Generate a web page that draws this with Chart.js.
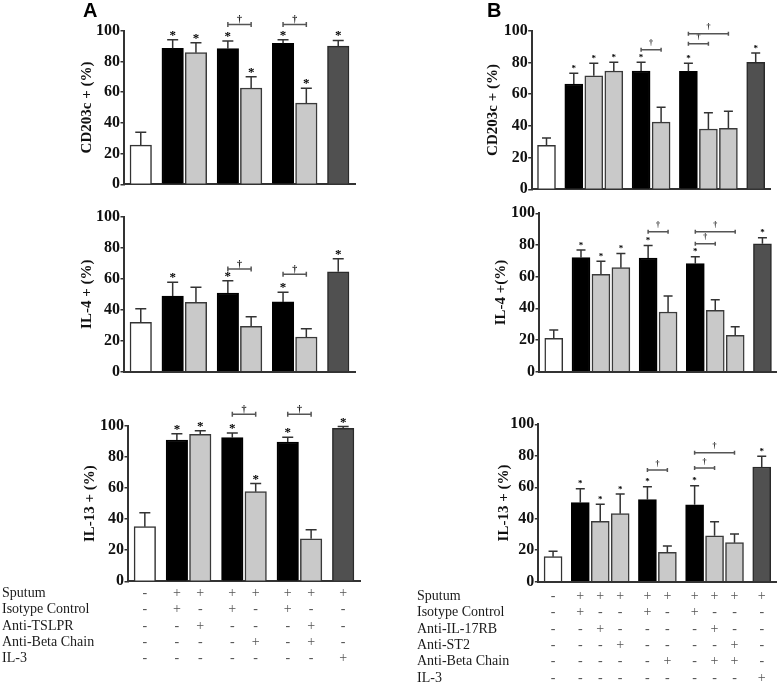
<!DOCTYPE html>
<html><head><meta charset="utf-8">
<script src="https://cdn.jsdelivr.net/npm/chart.js@4.4.1/dist/chart.umd.min.js"></script>
<style>
html,body{margin:0;padding:0;background:#fff;}
#wrap{position:relative;width:778px;height:683px;overflow:hidden;background:#fff;}
canvas{position:absolute;}
</style></head><body><div id="wrap"></div>
<script>
// ---------------- DATA ----------------
// Panel A condition table (one entry per bar)
const rowLabelsA = ['Sputum','Isotype Control','Anti-TSLPR','Anti-Beta Chain','IL-3'];
const sputumA    = ['-','+','+','+','+','+','+','+'];
const isotypeA   = ['-','+','-','+','-','+','-','-'];
const antiTSLPR_A= ['-','-','+','-','-','-','+','-'];
const antiBetaA  = ['-','-','-','-','+','-','+','-'];
const il3A       = ['-','-','-','-','-','-','-','+'];
const groupsA = [1,2,2,2,1];

// Panel B condition table
const rowLabelsB = ['Sputum','Isotype Control','Anti-IL-17RB','Anti-ST2','Anti-Beta Chain','IL-3'];
const sputumB    = ['-','+','+','+','+','+','+','+','+','+'];
const isotypeB   = ['-','+','-','-','+','-','+','-','-','-'];
const antiIL17RB = ['-','-','+','-','-','-','-','+','-','-'];
const antiST2    = ['-','-','-','+','-','-','-','-','+','-'];
const antiBetaB  = ['-','-','-','-','-','+','-','+','+','-'];
const il3B       = ['-','-','-','-','-','-','-','-','-','+'];
const groupsB = [1,3,2,3,1];

// Panel A values (mean, SEM)
const cd203cA     = [25.5, 88.5, 85.7, 88.3, 62.7, 91.8, 52.9, 90.0];
const cd203cA_err = [8.4, 5.6, 6.5, 5.0, 7.3, 2.3, 9.6, 3.7];
const il4A        = [31.9, 48.8, 44.8, 50.8, 29.3, 45.0, 22.4, 64.5];
const il4A_err    = [8.7, 8.9, 9.7, 7.9, 6.2, 6.2, 5.3, 8.4];
const il13A       = [35.2, 91.0, 94.7, 92.5, 57.7, 89.7, 27.4, 98.5];
const il13A_err   = [9.0, 4.0, 2.3, 3.0, 5.2, 3.0, 5.8, 1.1];
const starsCd203cA = [0,1,1,1,1,1,1,1];
const starsIl4A    = [0,1,0,1,0,1,0,1];
const starsIl13A   = [0,1,1,1,1,1,0,1];
// brackets: [fromBar, toBar, level]
const bracketsCd203cA = [[3,4,104],[5,6,104]];
const bracketsIl4A    = [[3,4,66.3],[5,6,62.8]];
const bracketsIl13A   = [[3,4,107.5],[5,6,107.5]];

// Panel B values
const cd203cB     = [27.7, 66.4, 71.6, 74.6, 74.6, 42.4, 74.4, 38.0, 38.5, 80.1];
const cd203cB_err = [4.6, 6.7, 7.8, 5.5, 5.5, 9.3, 5.0, 10.3, 10.7, 5.8];
const il4B        = [21.0, 72.0, 61.5, 65.7, 71.8, 37.7, 68.2, 38.8, 23.0, 80.8];
const il4B_err    = [5.3, 4.8, 8.2, 9.0, 7.8, 10.1, 4.4, 6.7, 5.4, 3.8];
const il13B       = [15.9, 50.2, 38.4, 43.2, 52.1, 18.7, 48.9, 29.2, 24.8, 72.9];
const il13B_err   = [3.4, 8.9, 10.8, 12.5, 8.3, 4.0, 12.1, 8.9, 5.5, 6.8];
const starsB      = [0,1,1,1,1,0,1,0,0,1];
const bracketsCd203cB = [[4,5,88],[6,7,91.8],[6,8,98.1]];
const bracketsIl4B    = [[4,5,88.4],[6,7,80.8],[6,8,88.4]];
const bracketsIl13B   = [[4,5,71],[6,7,72.2],[6,8,82]];

const yTicks = [0,20,40,60,80,100];

// ---------------- HELPERS ----------------
function slotPositions(groups, gap){
  const xs=[]; let x=0;
  groups.forEach((n,gi)=>{ if(gi>0) x+=gap-1; for(let k=0;k<n;k++){ xs.push(x); x+=1; } });
  return xs;
}
function barColors(sputum, isotype, il3){
  return sputum.map((s,i)=>{
    if (s==='-') return ['#ffffff','#333333'];
    if (il3[i]==='+') return ['#505050','#2a2a2a'];
    if (isotype[i]==='+') return ['#000000','#000000'];
    return ['#c9c9c9','#3a3a3a'];
  });
}
const xsA = slotPositions(groupsA, 1.37);
const xsB = slotPositions(groupsB, 1.365);
const colA = barColors(sputumA, isotypeA, il3A);
const colB = barColors(sputumB, isotypeB, il3B);
const tableA = [sputumA, isotypeA, antiTSLPR_A, antiBetaA, il3A];
const tableB = [sputumB, isotypeB, antiIL17RB, antiST2, antiBetaB, il3B];

const SERIF = "'Liberation Serif','Times New Roman',serif";
Chart.defaults.font.family = SERIF;
Chart.defaults.color = '#111';

const annotPlugin = {
  id: 'annot',
  afterDatasetsDraw(chart, args, o) {
    const ctx = chart.ctx;
    const meta = chart.getDatasetMeta(0);
    const ys = chart.scales.y;
    const data = chart.data.datasets[0].data;
    ctx.save();
    ctx.textAlign = 'center';
    ctx.textBaseline = 'alphabetic';
    meta.data.forEach((bar, i) => {
      const v = data[i].y, e = o.errors[i];
      const yTop = ys.getPixelForValue(v), yE = ys.getPixelForValue(v + e);
      ctx.strokeStyle = '#333'; ctx.lineWidth = 1.5;
      ctx.beginPath();
      ctx.moveTo(bar.x, yTop); ctx.lineTo(bar.x, yE);
      ctx.moveTo(bar.x - o.cap, yE); ctx.lineTo(bar.x + o.cap, yE);
      ctx.stroke();
      if (o.stars[i]) {
        ctx.fillStyle = '#000'; ctx.font = o.starFont;
        ctx.fillText('*', bar.x, yE + o.starDy);
      }
    });
    o.brackets.forEach(([i, j, lvl]) => {
      const x1 = meta.data[i].x, x2 = meta.data[j].x, y = ys.getPixelForValue(lvl);
      ctx.strokeStyle = '#555'; ctx.lineWidth = 1.5;
      ctx.beginPath();
      ctx.moveTo(x1, y); ctx.lineTo(x2, y);
      ctx.moveTo(x1, y - o.tick); ctx.lineTo(x1, y + o.tick);
      ctx.moveTo(x2, y - o.tick); ctx.lineTo(x2, y + o.tick);
      ctx.stroke();
      ctx.fillStyle = '#222'; ctx.font = o.daggerFont;
      ctx.fillText('\u2020', (x1 + x2) / 2, y + o.daggerDy);
    });
    if (o.letter) {
      ctx.fillStyle = '#000'; ctx.font = "bold 20px 'Liberation Sans', Arial, sans-serif";
      ctx.textAlign = 'left';
      ctx.fillText(o.letter, o.letterX, 16.5);
    }
    if (o.rows) {
      const xs = chart.scales.x;
      const tp = xs.options.ticks.padding;
      ctx.fillStyle = '#1a1a1a'; ctx.font = '14px ' + SERIF;
      ctx.textAlign = 'left'; ctx.textBaseline = 'middle';
      o.rows.forEach((t, r) => ctx.fillText(t, o.rowX, xs.top + tp + o.lh * (r + 0.5)));
    }
    ctx.restore();
  }
};

const LH = 16.45;
const A_RANGE = [-0.72, 9.2];
const B_RANGE = [-0.74, 11.175];

const panels = [
  {left:0, top:0, w:389, h:200, pad:{top:30.7,right:34,bottom:15.7,left:0}, yW:124, xH:0,
   title:'CD203c + (%)', titleX:87, vals:cd203cA, errs:cd203cA_err, stars:starsCd203cA, br:bracketsCd203cA,
   xs:xsA, cols:colA, range:A_RANGE, side:'A', letter:'A', letterX:83},
  {left:0, top:200, w:389, h:190, pad:{top:16.7,right:34,bottom:18.3,left:0}, yW:124, xH:0,
   title:'IL-4 + (%)', titleX:87, vals:il4A, errs:il4A_err, stars:starsIl4A, br:bracketsIl4A,
   xs:xsA, cols:colA, range:A_RANGE, side:'A'},
  {left:0, top:390, w:389, h:293, pad:{top:36,right:29,bottom:13.7,left:0}, yW:128, xH:88,
   title:'IL-13 + (%)', titleX:90, vals:il13A, errs:il13A_err, stars:starsIl13A, br:bracketsIl13A,
   xs:xsA, cols:colA, range:A_RANGE, side:'A', table:tableA, rows:rowLabelsA, rowX:2, tickPad:3.5},
  {left:389, top:0, w:389, h:200, pad:{top:30.7,right:8,bottom:10.7,left:0}, yW:142.7, xH:0,
   title:'CD203c + (%)', titleX:104.3, vals:cd203cB, errs:cd203cB_err, stars:starsB, br:bracketsCd203cB,
   xs:xsB, cols:colB, range:B_RANGE, side:'B', letter:'B', letterX:98},
  {left:389, top:200, w:389, h:190, pad:{top:13.3,right:1.3,bottom:18.3,left:0}, yW:150, xH:0,
   title:'IL-4 +(%)', titleX:112, vals:il4B, errs:il4B_err, stars:starsB, br:bracketsIl4B,
   xs:xsB, cols:colB, range:B_RANGE, side:'B'},
  {left:389, top:390, w:389, h:293, pad:{top:34.3,right:2,bottom:0,left:0}, yW:149.3, xH:101.3,
   title:'IL-13 + (%)', titleX:115, vals:il13B, errs:il13B_err, stars:starsB, br:bracketsIl13B,
   xs:xsB, cols:colB, range:B_RANGE, side:'B', table:tableB, rows:rowLabelsB, rowX:28, tickPad:6.1}
];

const wrap = document.getElementById('wrap');
panels.forEach(p => {
  const c = document.createElement('canvas');
  c.width = p.w; c.height = p.h;
  c.style.left = p.left + 'px'; c.style.top = p.top + 'px';
  c.style.width = p.w + 'px'; c.style.height = p.h + 'px';
  wrap.appendChild(c);
  const isA = p.side === 'A';
  new Chart(c.getContext('2d'), {
    type: 'bar',
    data: { datasets: [{
      data: p.vals.map((v, i) => ({x: p.xs[i], y: v})),
      backgroundColor: p.cols.map(c => c[0]),
      borderColor: p.cols.map(c => c[1]),
      borderWidth: 1.5,
      borderSkipped: 'start',
      barThickness: isA ? 21.5 : 18
    }]},
    options: {
      responsive: false, animation: false, devicePixelRatio: 1,
      layout: { padding: p.pad },
      plugins: {
        legend: {display: false}, tooltip: {enabled: false},
        annot: {
          errors: p.errs, stars: p.stars, brackets: p.br,
          cap: isA ? 5.5 : 4.5,
          starFont: isA ? 'bold 13px ' + SERIF : 'bold 9px ' + SERIF,
          starDy: isA ? -1 : -2.5,
          daggerFont: isA ? 'bold 10px ' + SERIF : 'bold 8px ' + SERIF,
          daggerDy: isA ? -2.1 : -4.3,
          tick: isA ? 2.5 : 2,
          letter: p.letter, letterX: p.letterX,
          rows: p.rows, rowX: p.rowX, lh: LH
        }
      },
      scales: {
        x: {
          type: 'linear', min: p.range[0], max: p.range[1], offset: false, bounds: 'data',
          grid: {display: false, drawTicks: false, offset: false},
          border: {display: true, color: '#333', width: 2},
          afterBuildTicks: s => { s.ticks = p.xs.map(v => ({value: v})); },
          afterFit: s => { s.height = p.xH; },
          ticks: {
            display: !!p.table, autoSkip: false, maxRotation: 0, minRotation: 0,
            padding: p.tickPad || 0, color: '#555',
            font: {family: SERIF, size: 14, lineHeight: LH / 14},
            callback: (v, i) => p.table ? p.table.map(row => row[i]) : ''
          }
        },
        y: {
          min: 0, max: 100,
          afterBuildTicks: s => { s.ticks = yTicks.map(v => ({value: v})); },
          afterFit: s => { s.width = p.yW; },
          grid: {display: true, drawOnChartArea: false, drawTicks: true, tickLength: 3.5, color: '#333', lineWidth: 1.5},
          border: {display: true, color: '#333', width: 2},
          ticks: {padding: 0.5, color: '#111', font: {family: SERIF, size: 16, weight: 'bold'}},
          title: {display: true, text: p.title, color: '#111',
                  font: {family: SERIF, size: 15, weight: 'bold', lineHeight: 1.2},
                  padding: {top: p.titleX - 9, bottom: 0}}
        }
      }
    },
    plugins: [annotPlugin]
  });
});
</script>
</body></html>
